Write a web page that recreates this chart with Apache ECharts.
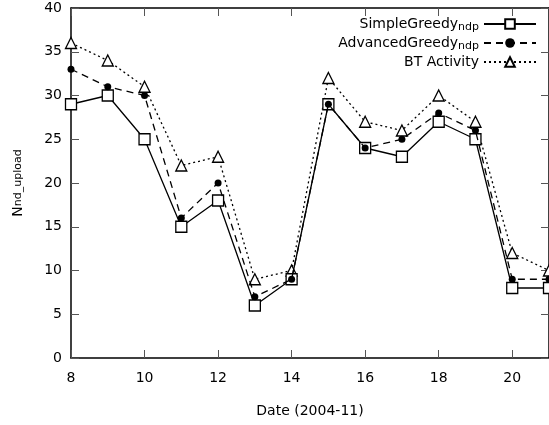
<!DOCTYPE html>
<html>
<head>
<meta charset="utf-8">
<script src="https://cdn.jsdelivr.net/npm/echarts@6/dist/echarts.min.js"></script>
<style>
  html, body { margin: 0; padding: 0; background: #fff; }
  #chart { width: 549px; height: 425px; }
</style>
</head>
<body>
<div id="chart"></div>
<script>
// days of 2004-11
const days = [8, 9, 10, 11, 12, 13, 14, 15, 16, 17, 18, 19, 20, 21];
const simpleGreedy = [29, 30, 25, 15, 18, 6, 9, 29, 24, 23, 27, 25, 8, 8];
const advancedGreedy = [33, 31, 30, 16, 20, 7, 9, 29, 24, 25, 28, 26, 9, 9];
const btActivity = [36, 34, 31, 22, 23, 9, 10, 32, 27, 26, 30, 27, 12, 10];
const xTicks = [8, 10, 12, 14, 16, 18, 20];
const yTicks = [0, 5, 10, 15, 20, 25, 30, 35, 40];

const font = 'DejaVu Sans';
const pairs = ys => days.map((d, i) => [d, ys[i]]);

const chart = echarts.init(document.getElementById('chart'));

const axisLine = { show: true, onZero: false, lineStyle: { color: '#000', width: 1.5 } };
const axisTick = { show: true, inside: true, length: 8, lineStyle: { color: '#555', width: 1 } };

chart.setOption({
  animation: false,
  backgroundColor: '#fff',
  grid: { left: 71, top: 8, width: 483, bottom: 67 },
  legend: {
    orient: 'vertical',
    right: 7,
    top: 12,
    align: 'right',
    itemWidth: 52,
    itemHeight: 12,
    itemGap: 3,
    textStyle: {
      fontFamily: font, fontSize: 14, color: '#000',
      rich: { sub: { fontFamily: font, fontSize: 11, color: '#000', verticalAlign: 'bottom', padding: [7, 0, 0, 0] } }
    },
    formatter: name => ({
      SimpleGreedy: 'SimpleGreedy{sub|ndp}',
      AdvancedGreedy: 'AdvancedGreedy{sub|ndp}',
      'BT Activity': 'BT Activity'
    })[name]
  },
  xAxis: [{
    type: 'value', min: 8, max: 21, interval: 2,
    name: 'Date (2004-11)', nameLocation: 'middle', nameGap: 46,
    nameTextStyle: { fontFamily: font, fontSize: 14, color: '#000' },
    axisLine, axisTick,
    axisLabel: {
      fontFamily: font, fontSize: 14, color: '#000', margin: 13,
      showMaxLabel: false,
      formatter: v => xTicks.includes(v) ? String(v) : ''
    },
    splitLine: { show: false }
  }, {
    type: 'value', min: 8, max: 21, interval: 2, position: 'top',
    axisLine, axisTick, axisLabel: { show: false }, splitLine: { show: false }
  }],
  yAxis: [{
    type: 'value', min: 0, max: 40, interval: 5,
    name: 'N{sub|nd_upload}', nameLocation: 'middle', nameGap: 46, nameRotate: 90,
    nameTextStyle: {
      fontFamily: font, fontSize: 14, color: '#000',
      rich: { sub: { fontFamily: font, fontSize: 11, color: '#000', padding: [0, 0, 0, 0] } }
    },
    axisLine, axisTick,
    axisLabel: {
      fontFamily: font, fontSize: 14, color: '#000', margin: 9,
      formatter: v => yTicks.includes(v) ? String(v) : ''
    },
    splitLine: { show: false }
  }, {
    type: 'value', min: 0, max: 40, interval: 5, position: 'right',
    axisLine, axisTick, axisLabel: { show: false }, splitLine: { show: false }
  }],
  series: [{
    name: 'SimpleGreedy', type: 'line', data: pairs(simpleGreedy),
    symbol: 'rect', symbolSize: 11, clip: true,
    lineStyle: { color: '#000', width: 1.3, type: 'solid' },
    itemStyle: { color: '#fff', borderColor: '#000', borderWidth: 1.3 },
    z: 3
  }, {
    name: 'AdvancedGreedy', type: 'line', data: pairs(advancedGreedy),
    symbol: 'circle', symbolSize: 7, clip: true,
    lineStyle: { color: '#000', width: 1.3, type: [7, 5] },
    itemStyle: { color: '#000', borderColor: '#000', borderWidth: 0 },
    z: 4
  }, {
    name: 'BT Activity', type: 'line', data: pairs(btActivity),
    symbol: 'triangle', symbolSize: 11, clip: true,
    lineStyle: { color: '#000', width: 1.3, type: [2, 3] },
    itemStyle: { color: '#fff', borderColor: '#000', borderWidth: 1.3 },
    z: 2
  }]
});
</script>
</body>
</html>
